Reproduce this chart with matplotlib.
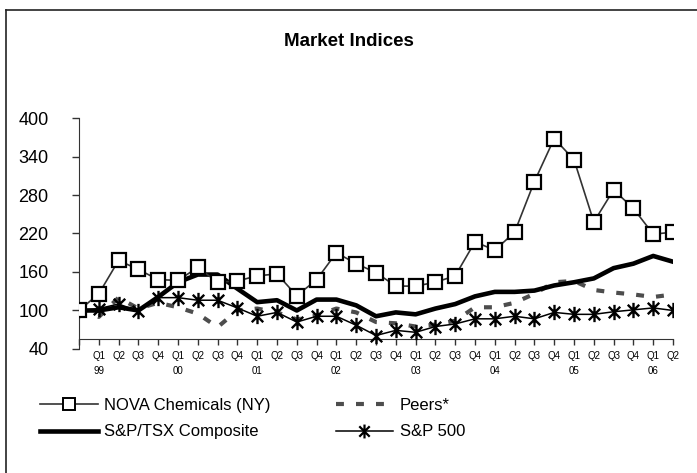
import numpy as np
import matplotlib.pyplot as plt
from matplotlib.path import Path
from matplotlib.lines import Line2D

plt.rcParams['font.family'] = ['Liberation Sans', 'DejaVu Sans']

# ------------------------
# Data (index = 100 at Q4 98)
# ------------------------
quarters = [''] + ['Q1', 'Q2', 'Q3', 'Q4'] * 7 + ['Q1', 'Q2']
years = ['99', '00', '01', '02', '03', '04', '05', '06']

nova = [100, 126, 178, 164, 148, 147, 167, 144, 146, 154, 157, 123, 148, 190, 173, 159,
        138, 138, 144, 154, 207, 194, 222, 301, 368, 335, 238, 288, 259, 219, 222]
peers = [100, 90, 120, 103, 112, 105, 95, 74, 100, 103, 97, 86, 92, 103, 97, 82,
         80, 75, 78, 84, 105, 105, 112, 126, 144, 146, 132, 128, 125, 121, 125]
tsx = [100, 100, 105, 100, 121, 144, 156, 156, 134, 113, 116, 100, 117, 117, 108, 91,
       97, 94, 103, 110, 122, 129, 129, 131, 139, 144, 150, 166, 173, 185, 176]
sp500 = [100, 103, 110, 99, 120, 120, 116, 116, 104, 91, 97, 82, 91, 91, 77, 61,
         69, 66, 75, 79, 87, 87, 91, 87, 97, 94, 94, 98, 101, 104, 100]

yticks = [40, 100, 160, 220, 280, 340, 400]

# ------------------------
# Figure
# ------------------------
fig = plt.figure(figsize=(6.97, 4.73), dpi=100)
ax = fig.add_axes([0.1133, 0.2622, 0.8523, 0.4883])

x = np.arange(len(nova))

# excel style star: vertical bar plus an X
star = Path([(0, -1), (0, 1), (-0.75, -0.75), (0.75, 0.75), (-0.75, 0.75), (0.75, -0.75)],
            [Path.MOVETO, Path.LINETO] * 3)

ax.plot(x, peers, color='#4d4d4d', lw=3, dashes=(1.9, 2.9), dash_capstyle='butt',
        label='Peers*', zorder=2)
ax.plot(x, tsx, color='black', lw=3.3, label='S&P/TSX Composite', zorder=3)
ax.plot(x, sp500, color='black', lw=1.1, marker=star, markersize=11, mew=1.7,
        mec='black', label='S&P 500', zorder=4)
ax.plot(x, nova, color='#333333', lw=1.2, marker='s', markersize=9.5, mfc='white',
        mec='black', mew=1.6, label='NOVA Chemicals (NY)', zorder=5)

ax.set_xlim(0, len(nova) - 1)
ax.set_ylim(40, 400)
ax.set_yticks(yticks)
ax.set_xticks(x)
ax.set_xticklabels(quarters)

for s in ['top', 'right']:
    ax.spines[s].set_visible(False)
ax.spines['bottom'].set_position(('data', 56))
ax.spines['left'].set_color('#333333')
ax.spines['bottom'].set_color('#333333')

ax.tick_params(axis='y', direction='out', length=5, width=1, labelsize=13, pad=17,
               colors='#333333', labelcolor='black')
ax.tick_params(axis='x', direction='out', length=4, width=1, labelsize=7, pad=5,
               colors='#333333', labelcolor='black')

for k, yr in enumerate(years):
    ax.text(1 + 4 * k, -0.095, yr, transform=ax.get_xaxis_transform(),
            ha='center', va='center', fontsize=7)

fig.text(349 / 697, 1 - 42 / 473, 'Market Indices', fontsize=13.5, fontweight='bold',
         ha='center', va='center')

# legend below the plot
handles = [
    Line2D([], [], color='#333333', lw=1.2, marker='s', markersize=8, mfc='white',
           mec='black', mew=1.4),
    Line2D([], [], color='black', lw=3.3),
    Line2D([], [], color='#4d4d4d', lw=3, dashes=(1.9, 2.9), dash_capstyle='butt'),
    Line2D([], [], color='black', lw=1.1, marker=star, markersize=10, mew=1.6),
]
labels = ['NOVA Chemicals (NY)', 'S&P/TSX Composite', 'Peers*', 'S&P 500']
fig.legend(handles, labels, loc='upper left', bbox_to_anchor=(40 / 697, 1 - 398 / 473),
           ncol=2, frameon=False, fontsize=12, handlelength=3.45, handletextpad=0.4,
           columnspacing=3.9, labelspacing=0.68, borderpad=0, borderaxespad=0)

# outer frame (cut off at right and bottom like the source)
fig.add_artist(Line2D([6 / 697, 1], [1 - 10 / 473, 1 - 10 / 473], color='#222222', lw=1.2))
fig.add_artist(Line2D([6 / 697, 6 / 697], [0, 1 - 10 / 473], color='#222222', lw=1.2))

fig.savefig('out.png', dpi=100)
